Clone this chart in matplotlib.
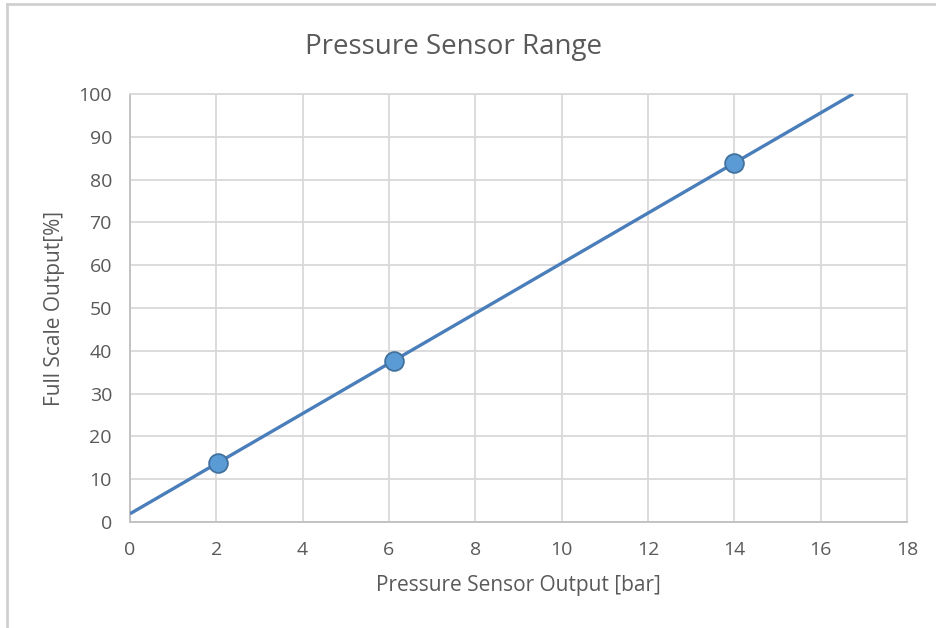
import numpy as np
import matplotlib
matplotlib.use("Agg")
import matplotlib.pyplot as plt
from matplotlib.lines import Line2D

pressure_bar = [2.04, 6.12, 14.0]
full_scale_pct = [13.9, 37.7, 83.9]
x_ticks = [0, 2, 4, 6, 8, 10, 12, 14, 16, 18]
y_ticks = [0, 10, 20, 30, 40, 50, 60, 70, 80, 90, 100]

plt.rcParams['font.family'] = ['Open Sans', 'DejaVu Sans']

fig = plt.figure(figsize=(9.37, 6.28), dpi=100)
ax = fig.add_axes([130/937, 1-522/628, (907-130)/937, (522-94)/628])

gray_txt = '#595959'
grid_c = '#d9d9d9'

# linear trendline
slope, intercept = np.polyfit(pressure_bar, full_scale_pct, 1)
x_end = (100 - intercept) / slope
xl = np.array([0, x_end])
ax.plot(xl, slope * xl + intercept, color='#4a7ebb', lw=2.4, zorder=3, solid_capstyle='butt')
ax.plot(pressure_bar, full_scale_pct, 'o', ms=13.5, mfc='#5b9bd5', mec='#41719c', mew=1.3, zorder=4)

ax.set_xlim(0, 18)
ax.set_ylim(0, 100)
ax.set_xticks(x_ticks)
ax.set_yticks(y_ticks)
ax.grid(True, color=grid_c, lw=1.3)
ax.set_axisbelow(True)
for s in ax.spines.values():
    s.set_color(grid_c)
    s.set_linewidth(1.3)
ax.spines['bottom'].set_color('#bfbfbf')
ax.spines['left'].set_color('#bfbfbf')
ax.tick_params(length=0, labelsize=14, labelcolor=gray_txt)
ax.tick_params(axis='x', pad=14)
ax.tick_params(axis='y', pad=13)

fig.text(454/937, 1-47/628, 'Pressure Sensor Range', fontsize=20, color=gray_txt,
         ha='center', va='center')
ax.set_xlabel('Pressure Sensor Output [bar]', fontsize=15, color=gray_txt)
ax.xaxis.set_label_coords(518/937, 1-585/628, transform=fig.transFigure)
ax.xaxis.label.set_va('center')
ax.set_ylabel('Full Scale Output[%]', fontsize=15, color=gray_txt)
ax.yaxis.set_label_coords(55/937, 1-308/628, transform=fig.transFigure)
ax.yaxis.label.set_va('center')

fig.add_artist(Line2D([7/937, 7/937], [0, 1-4/628], color='#d0d0d0', lw=2, transform=fig.transFigure))
fig.add_artist(Line2D([7/937, 1], [1-4/628, 1-4/628], color='#d0d0d0', lw=2, transform=fig.transFigure))

fig.savefig('out.png', dpi=100)
